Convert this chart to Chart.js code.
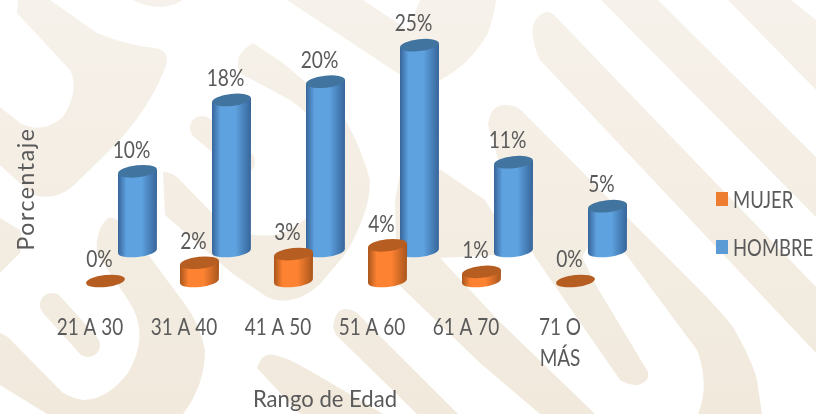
<!DOCTYPE html>
<html lang="es">
<head>
<meta charset="utf-8">
<title>Rango de Edad</title>
<script src="https://cdn.jsdelivr.net/npm/chart.js@4"></script>
<style>
html,body{margin:0;padding:0;background:#fff;overflow:hidden}
canvas{display:block;filter:blur(.35px)}
</style>
</head>
<body>
<canvas id="c" width="816" height="414"></canvas>
<script>
const categories = ["21 A 30", "31 A 40", "41 A 50", "51 A 60", "61 A 70", ["71 O", "MÁS"]];
const mujer = [0, 2.2, 3.25, 4.3, 1.1, 0];
const hombre = [9.6, 18.2, 20.4, 24.8, 10.7, 5.4];
const seriesNames = ["MUJER", "HOMBRE"];
const xTitle = "Rango de Edad";
const yTitle = "Porcentaje";

const TEXT = "#5a5a5a";
const FONT = "Lato, sans-serif";
const looks = [
  {edge:"#a9561d", mid:"#fd8231", top:"#b65e22", square:"#ed7d31", lift:0},
  {edge:"#37659a", mid:"#5ea2e0", top:"#41749f", square:"#5b9bd5", lift:30}
];
const RX = 19.5, RY = 6, TILT = -0.11;

const shapes = [
  "M18,0 L17,13 L70,70 Q80,90 63,117 Q42,135 20,123 L0,107 L0,165 L33,195 Q55,201 72,187 L110,150 Q150,110 167,63 Q168,50 155,48 Q125,45 97,33 L50,0 Z",
  "M133,0 Q160,14 183,0 Z",
  "M0,218 L20,230 L22,240 L20,253 L0,273 Z",
  "M108,218 Q95,230 97,253 L130,303 Q150,335 128,373 Q107,400 83,400 Q65,397 57,387 L8,337 L0,333 L0,385 L47,414 L183,414 Q205,385 205,350 Q200,325 187,307 L150,257 L122,225 Q115,216 108,218 Z",
  "M163,172 Q172,172 178,178 L212,213 L240,232 Q260,238 280,234 Q310,222 325,195 Q340,165 323,130 Q305,110 290,100 L240,73 Q232,55 253,43 L283,63 L323,97 Q340,110 347,123 Q362,150 370,180 Q370,200 363,217 Q355,240 343,257 L320,284 Q305,298 290,300 Q278,302 267,297 L233,274 L165,215 Z",
  "M287,0 L408,80 L440,80 Q470,65 488,33 Q494,15 496,0 L420,0 L408,30 L363,0 Z",
  "M257,368 Q262,352 275,355 L290,360 Q310,370 383,414 L300,414 Z",
  "M333,327 Q335,310 345,309 Q352,309 357,313 L458,414 L417,414 L336,335 Z",
  "M402,165 L441,170 L485,200 L510,240 L494,255 L440,258 L500,322 L595,414 L540,414 L480,363 L397,283 L395,200 Z",
  "M488,125 Q490,105 505,105 Q515,105 521,110 L628,218 L690,280 Q720,310 733,327 Q752,360 757,380 L762,414 L698,414 Q710,385 697,350 L628,257 L600,225 L582,257 L597,287 L648,372 Q650,382 637,385 Q628,385 620,380 L535,257 L515,215 Z",
  "M533,37 Q530,18 546,12 Q552,12 556,17 L816,287 L816,353 L540,60 Q535,50 533,37 Z",
  "M601,0 L658,0 L816,157 L816,217 Z",
  "M728,0 L791,0 L816,20 L816,90 Z"
];
const tongues = ["M52,305 L88,345", "M202,128 L243,162"];

function setSpacing(ctx, px){ if ("letterSpacing" in ctx) ctx.letterSpacing = px + "px"; }

function squeezed(ctx, s, x, y, sx){
  ctx.save();
  ctx.translate(x, y);
  ctx.scale(sx, 1);
  ctx.fillText(s, 0, 0);
  ctx.restore();
}

const backdrop = {
  id: "backdrop",
  beforeDraw(chart){
    const ctx = chart.ctx;
    ctx.save();
    ctx.fillStyle = "#ffffff";
    ctx.fillRect(0, 0, chart.width, chart.height);
    const g = ctx.createLinearGradient(0, 0, 0, chart.height);
    g.addColorStop(0, "#f6f1ea");
    g.addColorStop(1, "#f1e9dc");
    ctx.fillStyle = g;
    ctx.strokeStyle = g;
    shapes.forEach(d => ctx.fill(new Path2D(d)));
    ctx.lineWidth = 24;
    ctx.lineCap = "round";
    tongues.forEach(d => ctx.stroke(new Path2D(d)));
    ctx.restore();
  }
};

function cylinder(ctx, x, top, bottom, look){
  const g = ctx.createLinearGradient(x - RX, 0, x + RX, 0);
  g.addColorStop(0, look.edge);
  g.addColorStop(0.22, look.mid);
  g.addColorStop(0.6, look.mid);
  g.addColorStop(1, look.edge);
  if (bottom - top > 0.5) {
    ctx.beginPath();
    ctx.moveTo(x - RX, top + 2);
    ctx.lineTo(x - RX, bottom + 2);
    ctx.ellipse(x, bottom, RX, RY, TILT, Math.PI, 0, true);
    ctx.lineTo(x + RX, top - 2);
    ctx.closePath();
    ctx.fillStyle = g;
    ctx.fill();
  }
  ctx.beginPath();
  ctx.ellipse(x, top, RX, RY, TILT, 0, Math.PI * 2);
  ctx.fillStyle = look.top;
  ctx.fill();
}

const cylinders = {
  id: "cylinders",
  beforeDatasetDraw(chart, args){
    const ctx = chart.ctx;
    const look = looks[args.index];
    ctx.save();
    args.meta.data.forEach(bar => {
      cylinder(ctx, bar.x, bar.y - look.lift, bar.base - look.lift, look);
    });
    ctx.restore();
    return false;
  },
  afterDatasetsDraw(chart){
    const ctx = chart.ctx;
    ctx.save();
    ctx.font = "24px " + FONT;
    ctx.fillStyle = TEXT;
    ctx.textAlign = "center";
    ctx.textBaseline = "middle";
    chart.data.datasets.forEach((ds, i) => {
      chart.getDatasetMeta(i).data.forEach((bar, j) => {
        squeezed(ctx, Math.round(ds.data[j]) + "%", bar.x - 6, bar.y - looks[i].lift - 21.5, 0.8);
      });
    });
    const xs = chart.scales.x;
    chart.data.labels.forEach((label, i) => {
      [].concat(label).forEach((line, k) => {
        squeezed(ctx, line, xs.getPixelForTick(i) - 31.5, 327 + k * 31, 0.79);
      });
    });
    seriesNames.forEach((name, i) => {
      const y = 199 + i * 48;
      ctx.fillStyle = looks[i].square;
      ctx.fillRect(716, y - 7, 12, 14);
      ctx.fillStyle = TEXT;
      ctx.textAlign = "left";
      squeezed(ctx, name, 733, y + 1, 0.77);
    });
    ctx.textAlign = "center";
    squeezed(ctx, xTitle, 325, 399, 0.92);
    ctx.font = "23px " + FONT;
    ctx.translate(27, 189);
    ctx.rotate(-Math.PI / 2);
    setSpacing(ctx, 1.6);
    ctx.fillText(yTitle, 0, 0);
    ctx.restore();
  }
};

new Chart(document.getElementById("c"), {
  type: "bar",
  data: {
    labels: categories,
    datasets: [
      {label: seriesNames[0], data: mujer, backgroundColor: looks[0].square, categoryPercentage: 64 / 94, barPercentage: 1},
      {label: seriesNames[1], data: hombre, backgroundColor: looks[1].square, categoryPercentage: 64 / 94, barPercentage: 1}
    ]
  },
  plugins: [backdrop, cylinders],
  options: {
    responsive: false,
    animation: false,
    layout: {padding: {left: 74.5, right: 177.5, top: 32, bottom: 0}},
    plugins: {legend: {display: false}, tooltip: {enabled: false}, title: {display: false}},
    scales: {
      y: {display: false, min: 0, max: 30},
      x: {
        grid: {display: false},
        border: {display: false},
        ticks: {display: false},
        afterFit(scale){ scale.height = 133; }
      }
    }
  }
});
</script>
</body>
</html>
